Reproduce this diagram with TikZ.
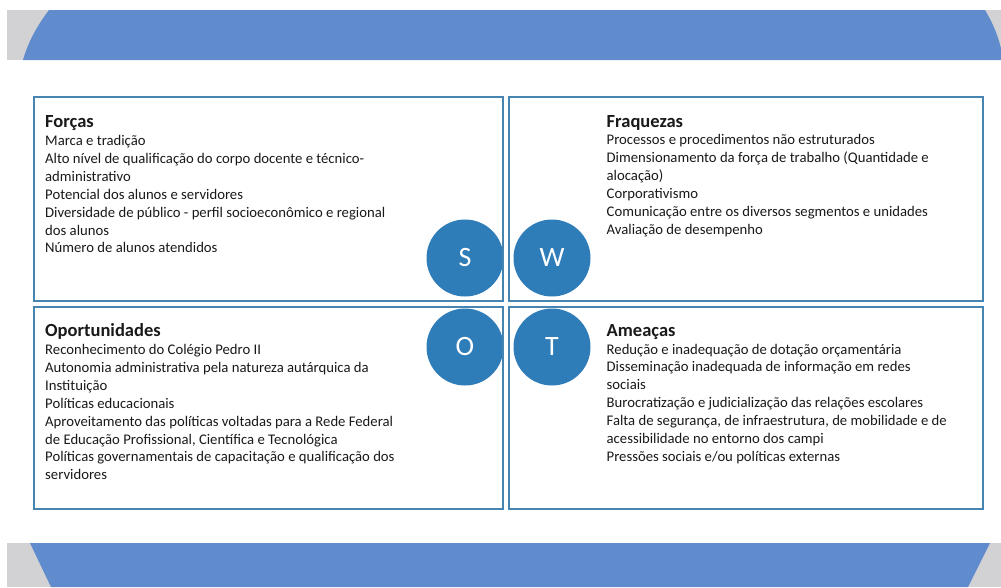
\documentclass[tikz,border=0pt]{standalone}
\usepackage{fontspec}
\setmainfont{Carlito}
\usetikzlibrary{positioning}

\definecolor{bandblue}{RGB}{96,140,206}
\definecolor{bandgray}{RGB}{210,210,213}
\definecolor{boxblue}{RGB}{70,132,178}
\definecolor{dotblue}{RGB}{46,125,185}
\definecolor{txt}{RGB}{25,25,25}

\tikzset{
  quad/.style={draw=boxblue, line width=1.6pt},
  letter/.style={circle, fill=dotblue, minimum size=77pt, inner sep=0pt,
    text=white, font=\fontsize{28}{28}\selectfont},
  head/.style={anchor=base west, inner sep=0pt, text=txt,
    font=\fontsize{18.5}{22}\selectfont\bfseries},
  item/.style={anchor=base west, inner sep=0pt, text=txt,
    font=\fontsize{14.7}{17.9}\selectfont},
}

\begin{document}
\begin{tikzpicture}[x=1pt, y=-1pt]
    \useasboundingbox (0,0) rectangle (1001,587);
    % bands
    \fill[bandgray] (7,10) rectangle (1001,60);
    \fill[bandblue] (49,10) -- (985,10)
        .. controls (995,26.7) and (1001,43.3) .. (1003,60)
        -- (23,60) .. controls (27.7,43.3) and (36.3,26.7) .. (49,10) -- cycle;
    \fill[bandgray] (7,543) rectangle (1001,587);
    \fill[bandblue] (30,543) -- (990,543) -- (968,587) -- (51,587) -- cycle;

    % letters
    \node[letter] (s) at (465,258) {S};
    \node[letter] (w) at (552,258) {W};
    \node[letter] (o) at (465,347) {O};
    \node[letter] (t) at (552,347) {T};

    % boxes
    \draw[quad] (34,97) rectangle (503,301);
    \draw[quad] (509,97) rectangle (983,301);
    \draw[quad] (34,307) rectangle (503,509);
    \draw[quad] (509,307) rectangle (983,509);

    % forcas
    \node[head] (ft) at (45,127.5) {Forças};
    \foreach \ln [count=\i from 0] in {Marca e tradição,
        Alto nível de qualificação do corpo docente e técnico-,
        administrativo, Potencial dos alunos e servidores,
        Diversidade de público - perfil socioeconômico e regional,
        dos alunos, Número de alunos atendidos}
        \node[item] (f\i) at (45,145.5+17.9*\i) {\ln};

    % fraquezas
    \node[head] (qt) at (606.5,127) {Fraquezas};
    \foreach \ln [count=\i from 0] in {Processos e procedimentos não estruturados,
        Dimensionamento da força de trabalho (Quantidade e,
        alocação), Corporativismo,
        Comunicação entre os diversos segmentos e unidades,
        Avaliação de desempenho}
        \node[item] (q\i) at (606.5,144.5+17.9*\i) {\ln};

    % oportunidades
    \node[head] (pt) at (45,336.5) {Oportunidades};
    \foreach \ln [count=\i from 0] in {Reconhecimento do Colégio Pedro II,
        Autonomia administrativa pela natureza autárquica da,
        Instituição, Políticas educacionais,
        Aproveitamento das políticas voltadas para a Rede Federal,
        {de Educação Profissional, Científica e Tecnológica},
        Políticas governamentais de capacitação e qualificação dos,
        servidores}
        \node[item] (p\i) at (45,354.5+17.9*\i) {\ln};

    % ameacas
    \node[head] (at) at (606.5,336.5) {Ameaças};
    \foreach \ln [count=\i from 0] in {Redução e inadequação de dotação orçamentária,
        Disseminação inadequada de informação em redes,
        sociais, Burocratização e judicialização das relações escolares,
        {Falta de segurança, de infraestrutura, de mobilidade e de},
        acessibilidade no entorno dos campi,
        Pressões sociais e/ou políticas externas}
        \node[item] (a\i) at (606.5,354+17.9*\i) {\ln};
\end{tikzpicture}
\end{document}
